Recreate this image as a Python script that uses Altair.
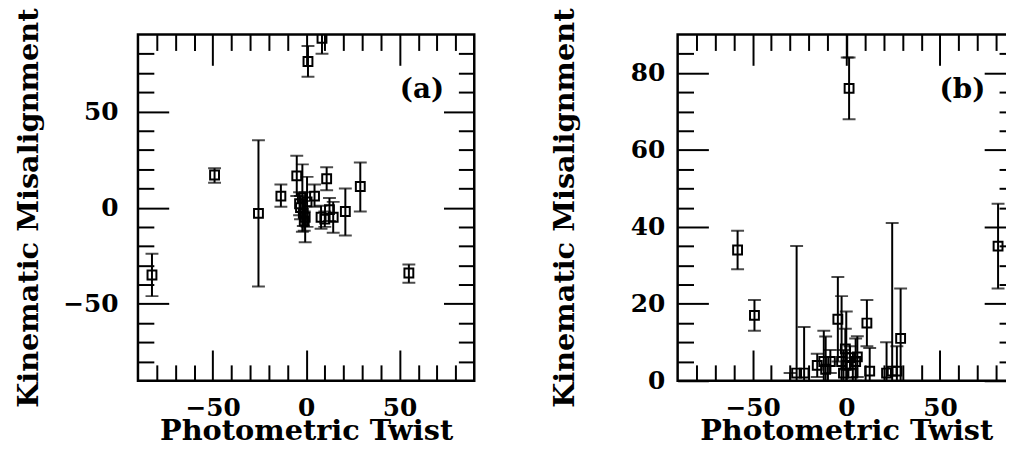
import altair as alt
import pandas as pd

# ---------------- Panel (a) data ----------------
a_x = [-82.5, -49.0, -25.5, -13.5, -5.0, -2.0, 0.5, -3.0, -1.5, -0.5, -1.0, -3.5,
       4.5, 11.0, 8.0, 12.5, 14.5, 10.0, 21.0, 29.0, 55.0, 1.0, 8.5]
a_y = [-35, 17, -3, 6, 16.5, 5, 3, 0, -3, -5, -7, 2,
       6, 15, -5, -1, -5, -6, -2, 11, -34, 76, 88]
a_lo = [-46, 13, -41, 0.5, 6, -12.5, -10, -6, -9.5, -18, -12, -4,
        0.5, 9, -11, -7, -13, -10, -14.5, -2, -39, 68, 80]
a_hi = [-24, 20.5, 35, 12, 27, 22.5, 16, 6, 3.5, 8, -2, 8,
        12, 21, 1, 5, 3, -2, 10, 23.5, -29.5, 84, 92]

# ---------------- Panel (b) data ----------------
b_x = [-58.0, -49.0, -30.0, -26.5, -22.5, -15.5, -12.0, -11.0, -8.5, -4.5, -2.5, -1.5,
       0.0, -0.5, 5.9, 1.5, 0.5, 2.0, 3.5, 5.0, 11.0, 12.5, 21.5, 24.5, 27.0, 29.0, 81.0]
b_y = [34, 17, -2, 2, 2, 4, 5, 3, 5, 16, 5, 2,
       4, 8.3, 6.2, 76, 95, 6, 2, 5, 15, 2.5, 2, 2.5, 2.5, 11, 35]
b_lo = [29, 13, -6, -30, -10, 1, -3, -5, 2, 5, -2, -4,
        -10, 3, 1, 68, 84, 3, -2, 0, 9, -3, -6, -36, -4, -2, 24]
b_hi = [39, 21, 2, 35, 14, 7, 13, 11.5, 8, 27, 22, 8,
        18, 13.5, 11.6, 84, 106, 9, 6, 11, 21, 8.5, 10, 41, 9, 24, 46]

# ---------------- axis ticks / labels ----------------
x_major = [-50, 0, 50]
x_minor = [-80, -70, -60, -40, -30, -20, -10, 10, 20, 30, 40, 60, 70, 80]
ya_major = [-50, 0, 50]
ya_minor = [-80, -70, -60, -40, -30, -20, -10, 10, 20, 30, 40, 60, 70, 80]
yb_major = [0, 20, 40, 60, 80]
yb_minor = [5, 10, 15, 25, 30, 35, 45, 50, 55, 65, 70, 75, 85]

x_title = "Photometric Twist"
y_title = "Kinematic Misalignment"

FONT = "DejaVu Serif"
MAJ = 31
MIN = 16


def ax(orient, values, size, labels=False, title=None, label_pad=0, title_pad=0):
    kw = dict(orient=orient, values=values, tickSize=size, offset=-size,
              tickWidth=2, tickColor="black", domain=False, grid=False,
              labels=labels, title=title)
    if labels:
        kw.update(labelFont=FONT, labelFontSize=25, labelFontWeight="bold",
                  labelColor="black", labelPadding=label_pad, labelFlush=False,
                  labelOverlap=False)
    if title:
        kw.update(titleFont=FONT, titleFontSize=29, titleFontWeight="bold",
                  titleColor="black", titlePadding=title_pad)
    return alt.Axis(**kw)


def panel(xs, ys, los, his, ydom, ymaj, ymin, tag, tag_x, tag_y, w, h,
          ylab_pad, ytitle_pad):
    df = pd.DataFrame({"x": xs, "y": ys, "lo": los, "hi": his})
    xsc = alt.Scale(domain=[-90, 90], nice=False, zero=False)
    ysc = alt.Scale(domain=ydom, nice=False, zero=False)
    base = alt.Chart(df)

    bars = base.mark_rule(clip=True, strokeWidth=2, color="black").encode(
        x=alt.X("x:Q", scale=xsc, axis=ax("bottom", x_minor, MIN)),
        y=alt.Y("lo:Q", scale=ysc, axis=ax("left", ymin, MIN)),
        y2="hi:Q",
    )
    cap_hi = base.mark_tick(clip=True, orient="horizontal", size=13,
                            thickness=2, color="black").encode(
        x=alt.X("x:Q", scale=xsc, axis=ax("top", x_major, MAJ)),
        y=alt.Y("hi:Q", scale=ysc, axis=ax("right", ymaj, MAJ)),
    )
    cap_lo = base.mark_tick(clip=True, orient="horizontal", size=13,
                            thickness=2, color="black").encode(
        x=alt.X("x:Q", scale=xsc, axis=ax("top", x_minor, MIN)),
        y=alt.Y("lo:Q", scale=ysc, axis=ax("right", ymin, MIN)),
    )
    pts = base.mark_point(clip=True, shape="square", filled=False, size=80,
                          strokeWidth=2, color="black", opacity=1).encode(
        x=alt.X("x:Q", scale=xsc,
                axis=ax("bottom", x_major, MAJ, labels=True, title=x_title,
                        label_pad=15, title_pad=-4)),
        y=alt.Y("y:Q", scale=ysc,
                axis=ax("left", ymaj, MAJ, labels=True, title=y_title,
                        label_pad=ylab_pad, title_pad=ytitle_pad)),
    )
    tdf = pd.DataFrame({"tx": [tag_x], "ty": [tag_y], "t": [tag]})
    txt = alt.Chart(tdf).mark_text(font=FONT, fontSize=28, fontWeight="bold",
                                   color="black", align="center",
                                   baseline="middle").encode(
        x=alt.X("tx:Q", scale=xsc, axis=None),
        y=alt.Y("ty:Q", scale=ysc, axis=None),
        text="t:N",
    )
    return alt.layer(bars, cap_hi, cap_lo, pts, txt).resolve_axis(
        x="independent", y="independent"
    ).properties(width=w, height=h)


pa = panel(a_x, a_y, a_lo, a_hi, [-90, 90], ya_major, ya_minor,
           "(a)", 62, 61, 339, 349, 20, 20)
pb = panel(b_x, b_y, b_lo, b_hi, [0, 90], yb_major, yb_minor,
           "(b)", 62, 75.5, 340, 349, 13, 51)

chart = alt.hconcat(pa, pb, spacing=72).properties(
    padding={"left": 5, "top": -4, "right": -12, "bottom": -5},
    background="white",
).configure_view(stroke="black", strokeWidth=2.5)

chart.save("out.html", embed_options={"renderer": "svg", "actions": False})
